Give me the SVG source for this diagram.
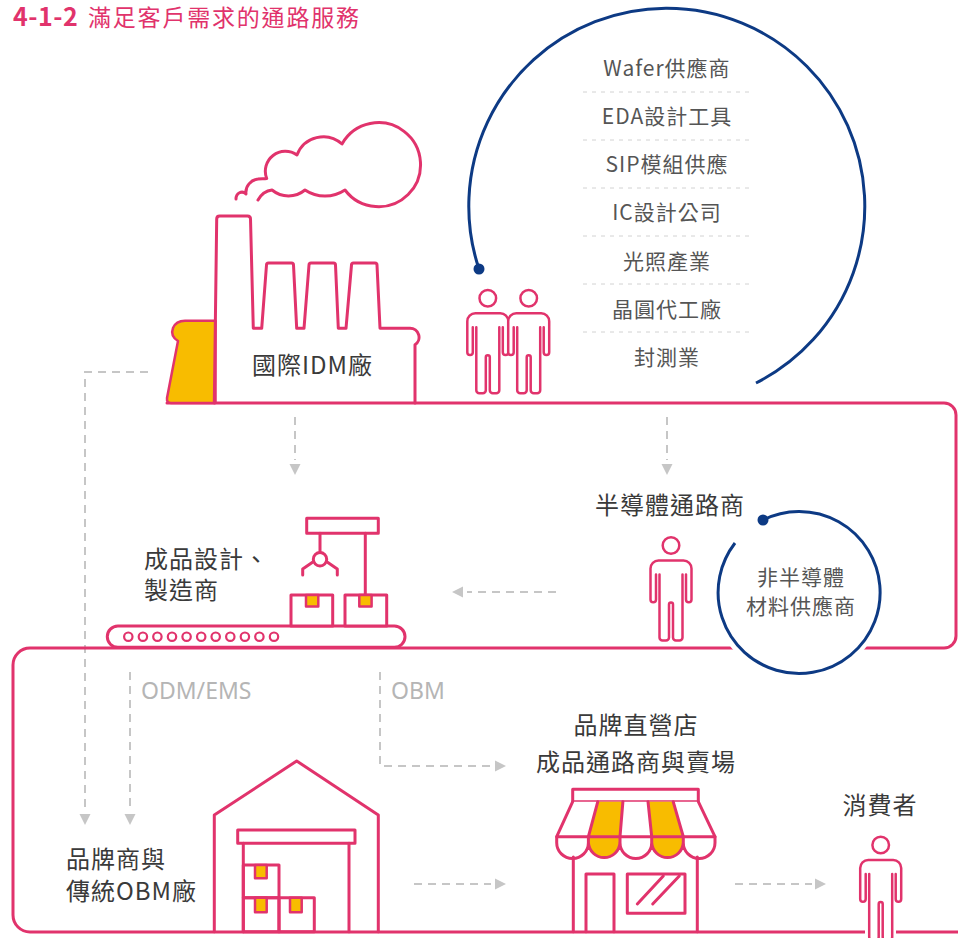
<svg xmlns="http://www.w3.org/2000/svg" width="958" height="938" viewBox="0 0 958 938">
<style>
.pk{fill:none;stroke:#e1336c;stroke-width:3;stroke-linejoin:round;stroke-linecap:round}
.pw{fill:#fff;stroke:#e1336c;stroke-width:3;stroke-linejoin:round}
.yl{fill:#f8bc00;stroke:#e1336c;stroke-width:2.5;stroke-linejoin:round}
.yf{fill:#f8bc00;stroke:none}
.nv{fill:none;stroke:#0d3a84;stroke-width:3}
.dash{fill:none;stroke:#c6c6c6;stroke-width:2;stroke-dasharray:8 6}
.tip{fill:#c6c6c6}
.sep{stroke:#d2d2d2;stroke-width:1;stroke-dasharray:4 5}
.lbl{font-family:"Noto Sans CJK TC","Noto Sans",sans-serif;font-size:24px;fill:#3a3a3a;letter-spacing:1px}
.mid{text-anchor:middle}
.lst{font-family:"Noto Sans CJK TC","Noto Sans",sans-serif;font-size:21px;fill:#555;letter-spacing:1px;text-anchor:middle}
.gl{font-family:"Noto Sans","Open Sans",sans-serif;font-size:23px;fill:#b5b5b5}
.fig{fill:#fff;stroke:#e1336c;stroke-width:2.5;stroke-linejoin:round;stroke-linecap:round}
</style>
<defs>
  <g id="person">
    <circle cx="0" cy="0" r="8.3"/>
    <path d="M-15,29 V54 a2.75,2.75 0 0 1 -5.5,0 V23 a8,8 0 0 1 8,-8 H12.5 a8,8 0 0 1 8,8 V54 a2.75,2.75 0 0 1 -5.5,0 V29"/>
    <path d="M-11.5,29 V92 a3,3 0 0 0 3,3 h3.5 a3,3 0 0 0 3,-3 V59 a2,2 0 0 1 4,0 V92 a3,3 0 0 0 3,3 h3.5 a3,3 0 0 0 3,-3 V29"/>
  </g>
</defs>

<rect width="958" height="938" fill="#fff"/>

<text x="13" y="26" font-family="'Noto Sans CJK TC','Noto Sans',sans-serif" fill="#e1336c"><tspan font-weight="700" font-size="25" letter-spacing="0.5">4-1-2</tspan><tspan x="88" font-size="23" letter-spacing="1.8">滿足客戶需求的通路服務</tspan></text>

<!-- connectors -->
<g id="connectors">
  <path class="dash" d="M148,372 H85 V812"/>
  <polygon class="tip" points="79.5,814 90.5,814 85,825"/>
  <path class="dash" d="M130,672 V812"/>
  <polygon class="tip" points="124.5,814 135.5,814 130,825"/>
  <path class="dash" d="M295,417 V460"/>
  <polygon class="tip" points="289.5,464 300.5,464 295,475"/>
  <path class="dash" d="M667,417 V460"/>
  <polygon class="tip" points="661.5,464 672.5,464 667,475"/>
  <path class="dash" d="M556,592 H467"/>
  <polygon class="tip" points="463,586.5 463,597.5 452,592"/>
  <path class="dash" d="M380,672 V766 H492"/>
  <polygon class="tip" points="495,760.5 495,771.5 506,766"/>
  <path class="dash" d="M414,884 H491"/>
  <polygon class="tip" points="495,878.5 495,889.5 506,884"/>
  <path class="dash" d="M735,884 H812"/>
  <polygon class="tip" points="815,878.5 815,889.5 826,884"/>
  <text class="gl" x="141" y="699">ODM/EMS</text>
  <text class="gl" x="391" y="699">OBM</text>
</g>

<!-- ground line running through the three levels -->
<path id="ground" class="pk" d="M167,403 H944 a12,12 0 0 1 12,12 V636 a12,12 0 0 1 -12,12 H30 a17,17 0 0 0 -17,17 V915 a17,17 0 0 0 17,17 H958"/>

<!-- IDM factory -->
<g id="idm">
  <path class="yl" d="M215.5,403 H171 Q166.5,403 167,398 L178,341 Q170,336 173,328 Q176,320.7 185,320.7 H215.5 Z" stroke-width="3"/>
  <path class="pk" d="M214.3,403 L216.7,219 q0,-3 3,-3 H247.5 q3,0 3,3 L253.3,328.3 H261.7 L266.5,265 q0,-2 2,-2 H291.5 q2,0 2,2 L296.7,328.3 H304 L309,265 q0,-2 2,-2 H333.5 q2,0 2,2 L338.3,328.3 H346 L351.5,265 q0,-2 2,-2 H375 q2,0 2,2 L380,328.3 H410 a9,9 0 0 1 5,16.5 V403"/>
  <path class="pk" d="M236,199 C236,193 242,190 246,194 C245,186 251,180 258,179 C261,178.5 264,179 266.7,178.5 A20,20 0 0 1 297,155 A28,28 0 0 1 342,144 A42,42 0 1 1 345,190 A36,36 0 0 1 305,190 A26,26 0 0 1 272,190 Q263,191 258,200"/>
  <text class="lbl" x="252" y="374">國際IDM廠</text>
</g>

<!-- upstream suppliers ring -->
<g id="suppliers">
  <path class="nv" d="M479,269 A198,198 0 1 1 756,383"/>
  <circle cx="479" cy="269" r="5.5" fill="#0d3a84"/>
  <use href="#person" class="fig" transform="translate(487.8,298.3)"/>
  <use href="#person" class="fig" transform="translate(528.7,298.3)"/>
  <text class="lst" x="667" y="76">Wafer供應商</text>
  <line class="sep" x1="583" y1="92" x2="752" y2="92"/>
  <text class="lst" x="667" y="124">EDA設計工具</text>
  <line class="sep" x1="583" y1="140" x2="752" y2="140"/>
  <text class="lst" x="667" y="172">SIP模組供應</text>
  <line class="sep" x1="583" y1="188" x2="752" y2="188"/>
  <text class="lst" x="667" y="220">IC設計公司</text>
  <line class="sep" x1="583" y1="236" x2="752" y2="236"/>
  <text class="lst" x="667" y="268.5">光照產業</text>
  <line class="sep" x1="583" y1="284" x2="752" y2="284"/>
  <text class="lst" x="667" y="316.5">晶圓代工廠</text>
  <line class="sep" x1="583" y1="332" x2="752" y2="332"/>
  <text class="lst" x="667" y="365">封測業</text>
</g>

<!-- design & manufacturing -->
<g id="maker">
  <rect class="pw" x="107.3" y="626" width="297.7" height="21.3" rx="10.6"/>
  <g fill="#fff" stroke="#e1336c" stroke-width="2.2">
    <circle cx="128.3" cy="636.7" r="4.2"/><circle cx="142.9" cy="636.7" r="4.2"/>
    <circle cx="157.4" cy="636.7" r="4.2"/><circle cx="172" cy="636.7" r="4.2"/>
    <circle cx="186.6" cy="636.7" r="4.2"/><circle cx="201.2" cy="636.7" r="4.2"/>
    <circle cx="215.7" cy="636.7" r="4.2"/><circle cx="230.3" cy="636.7" r="4.2"/>
    <circle cx="244.9" cy="636.7" r="4.2"/><circle cx="259.4" cy="636.7" r="4.2"/>
    <circle cx="274" cy="636.7" r="4.2"/>
  </g>
  <rect class="pk" x="306.7" y="518.3" width="71.6" height="15"/>
  <path class="pk" d="M365.3,533.3 V595"/>
  <path class="pk" d="M320,533.3 V552.5"/>
  <circle class="pk" cx="320" cy="559.3" r="6.7"/>
  <path class="pk" d="M313.6,561.5 L302.7,569 V575 M326.4,561.5 L337.3,569 V575"/>
  <rect class="pw" x="291" y="595" width="41.7" height="31"/>
  <rect class="pw" x="345" y="595" width="41.7" height="31"/>
  <rect class="yl" x="306" y="595" width="12.3" height="11.5"/>
  <rect class="yl" x="359.3" y="595" width="12.3" height="11.5"/>
  <text class="lbl" x="144" y="568">成品設計、</text>
  <text class="lbl" x="144" y="599">製造商</text>
</g>

<!-- semiconductor distributor -->
<g id="distributor">
  <use href="#person" class="fig" transform="translate(671,545.5)"/>
  <text class="lbl" x="595" y="514">半導體通路商</text>
</g>

<!-- non-semiconductor materials -->
<g id="materials">
  <circle cx="798.5" cy="592.5" r="87" fill="#fff"/>
  <path class="nv" d="M763,520 A81,81 0 1 1 735,543"/>
  <circle cx="763" cy="520" r="5.5" fill="#0d3a84"/>
  <text class="lst" x="801" y="585">非半導體</text>
  <text class="lst" x="801" y="613.5">材料供應商</text>
</g>

<!-- brand / OBM warehouse -->
<g id="obm">
  <path class="pk" d="M214.3,931.7 V815 L296.7,761 L378.3,815 V931.7"/>
  <rect class="pk" x="237.7" y="830" width="117.3" height="13.3"/>
  <path class="pk" d="M243.3,843.3 V931.7 M349,843.3 V931.7"/>
  <rect class="pk" x="243.3" y="865" width="35.7" height="32.7"/>
  <rect class="pk" x="243.3" y="897.7" width="35.7" height="34"/>
  <rect class="pk" x="279" y="897.7" width="35.3" height="34"/>
  <rect class="yl" x="255" y="865" width="11.7" height="13.3"/>
  <rect class="yl" x="255" y="897.7" width="11.7" height="14.6"/>
  <rect class="yl" x="290" y="897.7" width="11.7" height="14.6"/>
  <text class="lbl" x="66" y="868">品牌商與</text>
  <text class="lbl" x="66" y="900">傳統OBM廠</text>
</g>

<!-- retail store -->
<g id="store">
  <rect class="pw" x="572.7" y="789.3" width="125.6" height="12.4"/>
  <path fill="#fff" d="M572.7,801.7 L556.7,836.7 H715 L698.3,801.7 Z"/>
  <path class="yf" d="M597.8,801.7 H622.9 L620,836.7 V842.7 A15.8,15.8 0 0 1 588.4,842.7 V836.7 Z"/>
  <path class="yf" d="M648,801.7 H673.2 L683.3,836.7 V842.7 A15.8,15.8 0 0 1 651.7,842.7 V836.7 Z"/>
  <path class="pk" d="M572.7,801.7 L556.7,836.7 H715 L698.3,801.7 M597.8,801.7 L588.4,836.7 M622.9,801.7 L620,836.7 M648,801.7 L651.7,836.7 M673.2,801.7 L683.3,836.7"/>
  <path class="pk" d="M556.7,836.7 V842.7 A15.83,15.83 0 0 0 588.4,842.7 V836.7 V842.7 A15.83,15.83 0 0 0 620,842.7 V836.7 V842.7 A15.83,15.83 0 0 0 651.7,842.7 V836.7 V842.7 A15.83,15.83 0 0 0 683.3,842.7 V836.7 V842.7 A15.83,15.83 0 0 0 715,842.7 V836.7"/>
  <path class="pk" d="M573.3,857 V931.7 M697.3,857 V931.7"/>
  <path class="pk" d="M586,931.7 V874 H614 V931.7"/>
  <rect class="pk" x="627.3" y="874" width="57.7" height="39.3"/>
  <path class="pk" d="M637.3,904 L663.3,876 M652.7,904 L679.3,876"/>
  <text class="lbl mid" x="636" y="734">品牌直營店</text>
  <text class="lbl mid" x="636" y="771">成品通路商與賣場</text>
</g>

<!-- consumer -->
<g id="consumer">
  <rect x="865" y="925" width="31" height="13" fill="#fff"/>
  <use href="#person" class="fig" transform="translate(880.7,845)"/>
  <text class="lbl mid" x="880" y="814">消費者</text>
</g>
</svg>
